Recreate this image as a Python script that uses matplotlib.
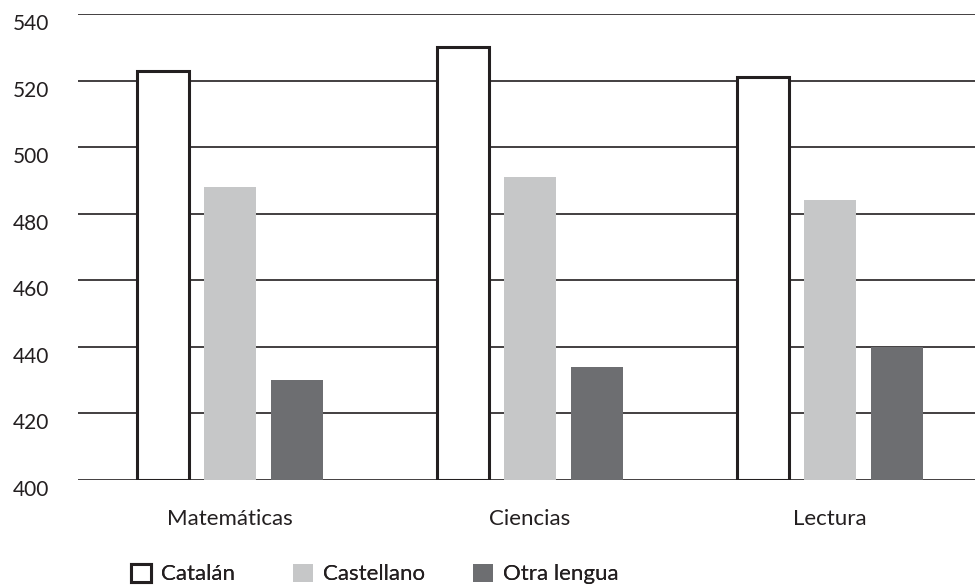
import matplotlib
matplotlib.use("Agg")
import matplotlib.pyplot as plt
import matplotlib.transforms as mtransforms
import numpy as np

plt.rcParams['font.family'] = ['Lato', 'DejaVu Sans']

categories = ["Matemáticas", "Ciencias", "Lectura"]
series_names = ["Catalán", "Castellano", "Otra lengua"]
catalan = [523, 530, 521]
castellano = [488, 491, 484]
otra = [430, 434, 440]
yticks = [400, 420, 440, 460, 480, 500, 520, 540]

base = 400
text_color = "#231f20"
colors_fill = ["white", "#c6c7c8", "#6d6e71"]

fig = plt.figure(figsize=(9.75, 5.86), dpi=100)
ax = fig.add_axes([78/975, 1 - 480/586, (975-78)/975, (480-14)/586])

x = np.arange(len(categories))
w = 0.173
off = 0.223

b1 = ax.bar(x - off, np.array(catalan) - base, bottom=base, width=w, facecolor=colors_fill[0],
            edgecolor=text_color, linewidth=2.2, label=series_names[0], zorder=3)
b2 = ax.bar(x, np.array(castellano) - base, bottom=base, width=w, color=colors_fill[1],
            label=series_names[1], zorder=3)
b3 = ax.bar(x + off, np.array(otra) - base, bottom=base, width=w, color=colors_fill[2],
            label=series_names[2], zorder=3)

ax.set_xlim(-0.507, 2.483)
ax.set_ylim(400, 540)
ax.set_yticks(yticks)
ax.set_yticklabels([str(t) for t in yticks])
ax.yaxis.grid(True, color=text_color, linewidth=1.2, zorder=0)
ax.set_axisbelow(True)
for s in ax.spines.values():
    s.set_visible(False)
ax.tick_params(axis='y', length=0, pad=21, labelsize=15, labelcolor=text_color)
ax.tick_params(axis='x', length=0, pad=21, labelsize=16, labelcolor=text_color)
ax.set_xticks(x)
ax.set_xticklabels(categories)

offset = mtransforms.ScaledTranslation(0, -8/100, fig.dpi_scale_trans)
for lab in ax.get_yticklabels():
    lab.set_transform(lab.get_transform() + offset)

legend_x = [131, 293, 473]
for bars, name, lx in zip([b1, b2, b3], series_names, legend_x):
    lg = fig.legend([bars], [name], loc='center left',
                    bbox_to_anchor=(lx/975, 1 - 574/586), frameon=False,
                    fontsize=16, handlelength=0.9, handleheight=0.9,
                    handletextpad=0.45, borderpad=0, borderaxespad=0,
                    labelcolor=text_color)
    fig.add_artist(lg)

fig.savefig("out.png", dpi=100)
